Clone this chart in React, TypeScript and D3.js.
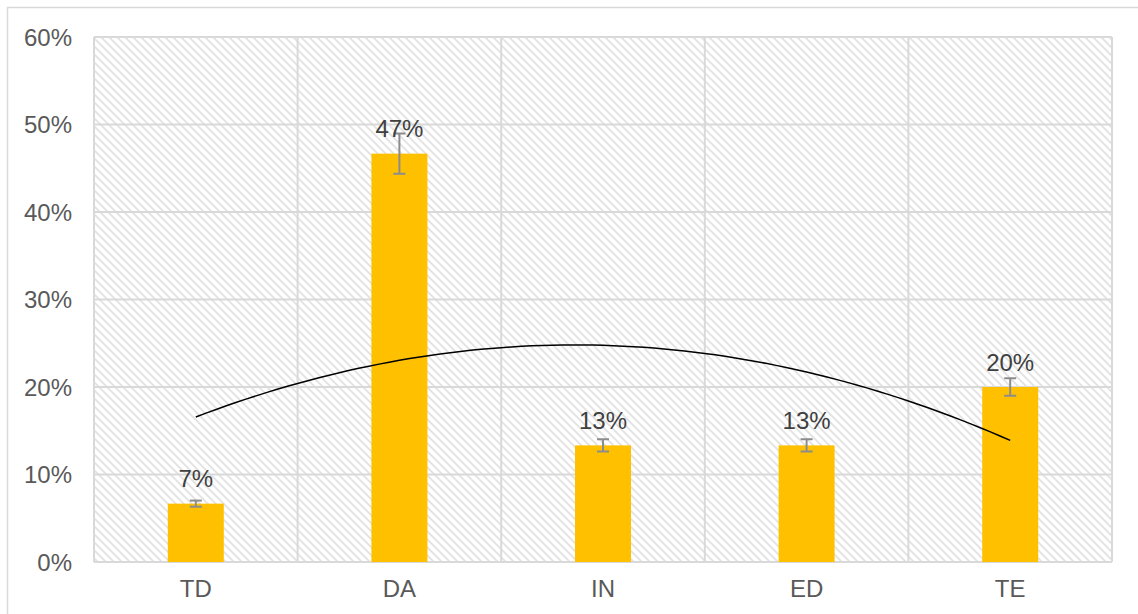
import React from "react";
import * as d3 from "d3";

const categories = ["TD", "DA", "IN", "ED", "TE"];
const values = [6.67, 46.67, 13.33, 13.33, 20.0];
const errors = [0.35, 2.3, 0.7, 0.7, 1.0];
const labels = ["7%", "47%", "13%", "13%", "20%"];
const yTicks = [0, 10, 20, 30, 40, 50, 60];

const W = 1138;
const H = 614;
const M = { left: 94, right: 1112, top: 37, bottom: 562 };

function quadFit(xs: number[], ys: number[]) {
  const n = xs.length;
  const s = [0, 0, 0, 0, 0];
  const t = [0, 0, 0];
  for (let i = 0; i < n; i++) {
    const x = xs[i], y = ys[i];
    for (let k = 0; k < 5; k++) s[k] += Math.pow(x, k);
    for (let k = 0; k < 3; k++) t[k] += y * Math.pow(x, k);
  }
  const A = [
    [s[0], s[1], s[2], t[0]],
    [s[1], s[2], s[3], t[1]],
    [s[2], s[3], s[4], t[2]],
  ];
  for (let i = 0; i < 3; i++) {
    for (let j = i + 1; j < 3; j++) {
      const f = A[j][i] / A[i][i];
      for (let k = i; k < 4; k++) A[j][k] -= f * A[i][k];
    }
  }
  const r = [0, 0, 0];
  for (let i = 2; i >= 0; i--) {
    let v = A[i][3];
    for (let k = i + 1; k < 3; k++) v -= A[i][k] * r[k];
    r[i] = v / A[i][i];
  }
  return (x: number) => r[0] + r[1] * x + r[2] * x * x;
}

export default function App() {
  const x = d3.scaleBand<string>().domain(categories).range([M.left, M.right]).paddingInner(0).paddingOuter(0);
  const y = d3.scaleLinear().domain([0, 60]).range([M.bottom, M.top]);
  const barW = 56;
  const bw = x.bandwidth();
  const fit = quadFit(categories.map((_, i) => i + 1), values);
  const xi = d3.scaleLinear().domain([1, 5]).range([x(categories[0])! + bw / 2, x(categories[4])! + bw / 2]);
  const pts = d3.range(1, 5.0001, 0.05).map((v) => [xi(v), y(fit(v))] as [number, number]);
  const line = d3.line().curve(d3.curveLinear)(pts) || "";
  const font = "'Liberation Sans', Arial, sans-serif";

  return (
    <svg width={W} height={H} style={{ position: "absolute", left: 0, top: 0, background: "#fff" }}>
      <defs>
        <pattern id="hatch" width="8" height="8" patternUnits="userSpaceOnUse">
          <rect width="8" height="8" fill="#fff" />
          <path d="M-2,6 L2,10 M0,0 L8,8 M6,-2 L10,2" stroke="#e2e2e2" strokeWidth="1.8" />
        </pattern>
      </defs>
      <rect x={7.5} y={7.5} width={W} height={H} fill="#fff" stroke="#d9d9d9" strokeWidth={1.5} />
      <rect x={M.left} y={M.top} width={M.right - M.left} height={M.bottom - M.top} fill="url(#hatch)" />
      {yTicks.map((t) => (
        <line key={"g" + t} x1={M.left} x2={M.right} y1={y(t)} y2={y(t)} stroke="#d9d9d9" strokeWidth={2} />
      ))}
      {categories.map((c) => (
        <line key={"v" + c} x1={x(c)!} x2={x(c)!} y1={M.top} y2={M.bottom} stroke="#d9d9d9" strokeWidth={2} />
      ))}
      <line x1={M.right} x2={M.right} y1={M.top} y2={M.bottom} stroke="#d9d9d9" strokeWidth={2} />
      {categories.map((c, i) => {
        const cx = x(c)! + bw / 2;
        return (
          <rect key={"b" + c} x={cx - barW / 2} y={y(values[i])} width={barW} height={y(0) - y(values[i])} fill="#FFC000" />
        );
      })}
      <path d={line} fill="none" stroke="#000" strokeWidth={1.5} />
      {categories.map((c, i) => {
        const cx = x(c)! + bw / 2;
        const y1 = y(values[i] + errors[i]);
        const y2 = y(values[i] - errors[i]);
        return (
          <g key={"e" + c} stroke="#8c8c8c" strokeWidth={2}>
            <line x1={cx} x2={cx} y1={y1} y2={y2} />
            <line x1={cx - 6} x2={cx + 6} y1={y1} y2={y1} />
            <line x1={cx - 6} x2={cx + 6} y1={y2} y2={y2} />
          </g>
        );
      })}
      {categories.map((c, i) => (
        <text key={"l" + c} x={x(c)! + bw / 2} y={y(values[i]) - 16.5} textAnchor="middle" fontFamily={font} fontSize={24} fill="#404040">
          {labels[i]}
        </text>
      ))}
      {yTicks.map((t) => (
        <text key={"t" + t} x={72} y={y(t) + 8.5} textAnchor="end" fontFamily={font} fontSize={24} fill="#595959">
          {t + "%"}
        </text>
      ))}
      {categories.map((c) => (
        <text key={"c" + c} x={x(c)! + bw / 2} y={597} textAnchor="middle" fontFamily={font} fontSize={24} fill="#595959">
          {c}
        </text>
      ))}
    </svg>
  );
}
